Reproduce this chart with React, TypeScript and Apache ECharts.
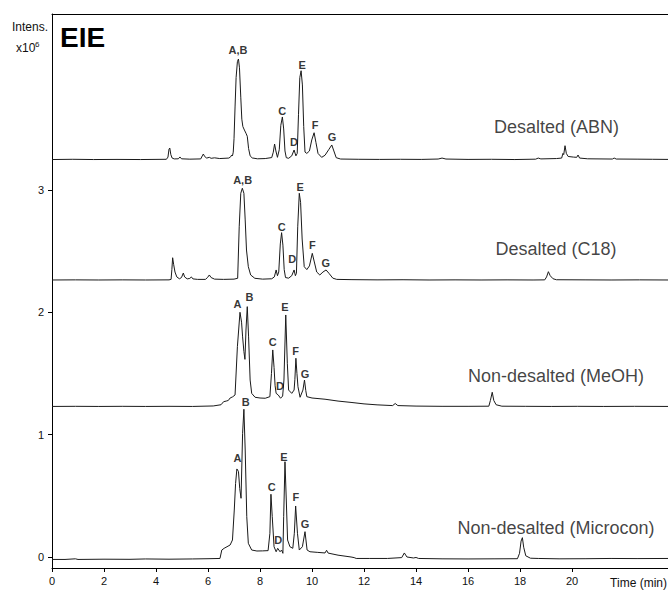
import React, { useEffect, useRef } from "react";
import * as echarts from "echarts";

const FONT = "'Liberation Sans', Arial, Helvetica, sans-serif";

const xTicks = [0, 2, 4, 6, 8, 10, 12, 14, 16, 18, 20];
const yTicks = [0, 1, 2, 3];

const sampleNames = ["Desalted (ABN)", "Desalted (C18)", "Non-desalted (MeOH)", "Non-desalted (Microcon)"];
const sampleLabelT = [19.4, 19.38, 19.38, 19.38];
const sampleLabelV = [3.516, 2.518, 1.48, 0.237];

const abnTrace: [number, number][] = [
  [0, 3.25], [0.8, 3.252], [1.6, 3.25], [2.5, 3.251], [3.4, 3.25], [4.4, 3.252], [4.46, 3.27], [4.5, 3.335], [4.53, 3.344], [4.57, 3.29], [4.62, 3.262], [4.7, 3.255], [4.86, 3.256], [4.92, 3.271], [4.98, 3.256], [5.3, 3.253], [5.72, 3.255], [5.78, 3.28], [5.82, 3.295], [5.87, 3.275], [5.95, 3.262], [6.05, 3.268], [6.12, 3.26], [6.25, 3.264], [6.45, 3.258], [6.8, 3.262], [6.87, 3.272], [6.91, 3.287], [6.94, 3.28], [6.97, 3.31], [7.0, 3.42], [7.04, 3.68], [7.08, 3.92], [7.13, 4.05], [7.17, 4.072], [7.21, 4.0], [7.26, 3.76], [7.3, 3.58], [7.34, 3.52], [7.4, 3.491], [7.46, 3.465], [7.51, 3.44], [7.56, 3.34], [7.62, 3.28], [7.7, 3.263], [7.9, 3.256], [8.2, 3.258], [8.45, 3.266], [8.51, 3.31], [8.56, 3.377], [8.61, 3.32], [8.67, 3.268], [8.74, 3.33], [8.8, 3.53], [8.86, 3.598], [8.91, 3.5], [8.96, 3.32], [9.01, 3.265], [9.1, 3.26], [9.22, 3.28], [9.31, 3.328], [9.38, 3.28], [9.43, 3.3], [9.48, 3.62], [9.53, 3.92], [9.58, 3.976], [9.63, 3.86], [9.68, 3.52], [9.73, 3.311], [9.8, 3.3], [9.9, 3.32], [9.99, 3.41], [10.08, 3.469], [10.15, 3.39], [10.23, 3.3], [10.37, 3.268], [10.5, 3.285], [10.64, 3.33], [10.76, 3.369], [10.84, 3.32], [10.93, 3.265], [11.1, 3.254], [11.8, 3.252], [12.6, 3.251], [13.4, 3.252], [14.2, 3.251], [14.85, 3.254], [15.0, 3.262], [15.15, 3.254], [16.0, 3.251], [16.9, 3.252], [17.8, 3.25], [18.6, 3.253], [18.7, 3.262], [18.8, 3.255], [19.4, 3.258], [19.6, 3.262], [19.65, 3.3], [19.68, 3.29], [19.73, 3.363], [19.78, 3.3], [19.85, 3.275], [20.05, 3.27], [20.18, 3.268], [20.23, 3.287], [20.29, 3.262], [20.6, 3.256], [21.55, 3.254], [21.62, 3.262], [21.7, 3.254], [22.5, 3.253], [23.1, 3.252], [23.7, 3.251],
];

const c18Trace: [number, number][] = [
  [0, 2.265], [0.9, 2.266], [1.8, 2.265], [2.7, 2.266], [3.6, 2.265], [4.5, 2.266], [4.58, 2.27], [4.61, 2.35], [4.64, 2.447], [4.68, 2.39], [4.73, 2.33], [4.8, 2.29], [4.9, 2.275], [4.98, 2.285], [5.05, 2.322], [5.1, 2.29], [5.2, 2.274], [5.3, 2.278], [5.36, 2.29], [5.42, 2.274], [5.6, 2.27], [5.9, 2.27], [5.98, 2.285], [6.05, 2.306], [6.12, 2.285], [6.25, 2.272], [6.6, 2.27], [7.0, 2.272], [7.14, 2.279], [7.2, 2.7], [7.26, 2.974], [7.32, 3.015], [7.38, 2.974], [7.43, 2.756], [7.48, 2.51], [7.55, 2.374], [7.64, 2.306], [7.8, 2.279], [8.1, 2.272], [8.45, 2.275], [8.55, 2.29], [8.62, 2.347], [8.67, 2.3], [8.72, 2.33], [8.78, 2.56], [8.83, 2.652], [8.88, 2.55], [8.93, 2.35], [8.98, 2.285], [9.1, 2.28], [9.22, 2.3], [9.31, 2.347], [9.36, 2.3], [9.4, 2.32], [9.45, 2.7], [9.51, 2.974], [9.56, 2.9], [9.62, 2.6], [9.7, 2.374], [9.8, 2.35], [9.9, 2.38], [10.01, 2.483], [10.08, 2.42], [10.18, 2.33], [10.3, 2.306], [10.42, 2.33], [10.54, 2.347], [10.65, 2.32], [10.8, 2.28], [10.95, 2.27], [11.5, 2.268], [12.5, 2.266], [13.5, 2.267], [14.5, 2.265], [15.5, 2.266], [16.5, 2.265], [17.5, 2.266], [18.5, 2.265], [18.95, 2.266], [19.02, 2.29], [19.09, 2.333], [19.16, 2.3], [19.27, 2.275], [19.4, 2.267], [20.5, 2.266], [21.5, 2.265], [22.6, 2.266], [23.7, 2.265],
];

const meohTrace: [number, number][] = [
  [0, 1.231], [0.9, 1.232], [1.8, 1.231], [2.7, 1.232], [3.6, 1.231], [4.5, 1.232], [5.4, 1.231], [6.2, 1.235], [6.5, 1.245], [6.6, 1.27], [6.7, 1.275], [6.78, 1.28], [6.85, 1.3], [6.95, 1.31], [7.04, 1.325], [7.13, 1.72], [7.23, 2.001], [7.29, 1.92], [7.33, 1.8], [7.38, 1.68], [7.42, 1.616], [7.46, 1.856], [7.51, 2.047], [7.56, 1.8], [7.62, 1.447], [7.68, 1.338], [7.81, 1.306], [8.0, 1.3], [8.2, 1.298], [8.38, 1.311], [8.44, 1.5], [8.49, 1.693], [8.54, 1.55], [8.58, 1.4], [8.62, 1.338], [8.7, 1.325], [8.79, 1.298], [8.87, 1.316], [8.92, 1.447], [8.99, 1.979], [9.05, 1.584], [9.1, 1.365], [9.22, 1.338], [9.31, 1.365], [9.34, 1.45], [9.38, 1.625], [9.42, 1.5], [9.46, 1.392], [9.54, 1.306], [9.65, 1.365], [9.71, 1.447], [9.76, 1.36], [9.8, 1.311], [10.0, 1.3], [10.5, 1.29], [11.0, 1.275], [11.5, 1.264], [12.0, 1.252], [12.5, 1.244], [13.1, 1.238], [13.2, 1.255], [13.3, 1.238], [14.0, 1.234], [15.0, 1.232], [16.0, 1.232], [16.8, 1.233], [16.86, 1.28], [16.93, 1.347], [16.99, 1.28], [17.08, 1.245], [17.3, 1.233], [18.2, 1.232], [19.2, 1.231], [20.2, 1.232], [21.2, 1.231], [22.4, 1.232], [23.7, 1.231],
];

const microconTrace: [number, number][] = [
  [0, -0.02], [0.5, -0.02], [0.9, -0.015], [1.0, -0.02], [2.0, -0.018], [3.0, -0.019], [3.6, -0.016], [4.5, -0.018], [5.4, -0.016], [6.0, -0.014], [6.46, -0.012], [6.53, 0.057], [6.62, 0.071], [6.73, 0.084], [6.85, 0.098], [6.94, 0.139], [7.01, 0.384], [7.06, 0.6], [7.11, 0.72], [7.17, 0.7], [7.22, 0.56], [7.27, 0.48], [7.33, 1.011], [7.38, 1.208], [7.43, 0.875], [7.49, 0.33], [7.55, 0.112], [7.68, 0.057], [7.88, 0.049], [8.1, 0.05], [8.31, 0.052], [8.38, 0.194], [8.42, 0.513], [8.47, 0.33], [8.54, 0.084], [8.62, 0.043], [8.68, 0.071], [8.77, 0.043], [8.83, 0.057], [8.88, 0.03], [8.91, 0.33], [8.96, 0.779], [9.01, 0.466], [9.06, 0.139], [9.15, 0.084], [9.26, 0.071], [9.32, 0.194], [9.37, 0.417], [9.44, 0.194], [9.51, 0.057], [9.63, 0.084], [9.73, 0.207], [9.81, 0.057], [9.92, 0.043], [10.2, 0.038], [10.5, 0.033], [10.56, 0.055], [10.62, 0.032], [11.0, 0.015], [11.5, 0.0], [11.62, -0.005], [11.7, -0.012], [12.2, -0.012], [12.9, -0.012], [13.45, -0.005], [13.55, 0.033], [13.65, 0.0], [13.9, -0.008], [14.0, -0.004], [14.1, -0.012], [15.0, -0.015], [16.0, -0.016], [17.0, -0.015], [17.9, -0.014], [17.98, 0.03], [18.04, 0.13], [18.09, 0.158], [18.14, 0.08], [18.22, 0.01], [18.4, -0.01], [18.7, -0.012], [19.5, -0.015], [20.5, -0.014], [21.5, -0.012], [22.5, -0.013], [23.7, -0.012],
];

const peakNames = [
  "A,B", "C", "D", "E", "F", "G",
  "A,B", "C", "D", "E", "F", "G",
  "A", "B", "C", "D", "E", "F", "G",
  "A", "B", "C", "D", "E", "F", "G",
];
const peakLabelT = [
  7.15, 8.85, 9.31, 9.62, 10.12, 10.77,
  7.33, 8.83, 9.24, 9.54, 10.01, 10.53,
  7.13, 7.59, 8.49, 8.77, 8.96, 9.37, 9.73,
  7.13, 7.45, 8.45, 8.7, 8.92, 9.38, 9.73,
];
const peakLabelV = [
  4.146, 3.647, 3.393, 4.023, 3.532, 3.434,
  3.083, 2.701, 2.437, 3.028, 2.551, 2.404,
  2.069, 2.128, 1.76, 1.398, 2.047, 1.684, 1.496,
  0.807, 1.27, 0.57, 0.139, 0.82, 0.493, 0.267,
];

const traces = [abnTrace, c18Trace, meohTrace, microconTrace];

export default function App() {
  const ref = useRef<HTMLDivElement>(null);
  useEffect(() => {
    document.body.style.margin = "0";
    if (!ref.current) return;
    const chart = echarts.init(ref.current, null, { renderer: "svg" });
    const axisLineStyle = { color: "#000", width: 1 };
    const option: any = {
      animation: false,
      backgroundColor: "#fff",
      textStyle: { fontFamily: FONT },
      grid: { left: 52, right: 0, top: 14, bottom: 22, containLabel: false },
      xAxis: [
        {
          type: "value",
          min: 0,
          max: 23.69,
          axisLine: { show: true, onZero: false, lineStyle: axisLineStyle },
          axisTick: { show: true, customValues: xTicks, length: 4, lineStyle: axisLineStyle },
          axisLabel: { customValues: xTicks, fontSize: 11, color: "#111", margin: 7, fontFamily: FONT },
          splitLine: { show: false },
        },
        {
          type: "value",
          position: "top",
          min: 0,
          max: 23.69,
          axisLine: { show: true, onZero: false, lineStyle: axisLineStyle },
          axisTick: { show: false },
          axisLabel: { show: false },
          splitLine: { show: false },
        },
      ],
      yAxis: {
        type: "value",
        min: -0.09,
        max: 4.44,
        axisLine: { show: true, onZero: false, lineStyle: axisLineStyle },
        axisTick: { show: true, customValues: yTicks, length: 4, lineStyle: axisLineStyle },
        axisLabel: { customValues: yTicks, fontSize: 11, color: "#111", margin: 8, fontFamily: FONT },
        splitLine: { show: false },
      },
      series: [
        ...traces.map((d) => ({
          type: "line",
          data: d,
          showSymbol: false,
          symbol: "none",
          silent: true,
          lineStyle: { color: "#1a1a1a", width: 1 },
          z: 2,
        })),
        {
          type: "scatter",
          silent: true,
          symbolSize: 1,
          itemStyle: { color: "rgba(0,0,0,0)" },
          data: peakNames.map((n, i) => ({ name: n, value: [peakLabelT[i], peakLabelV[i]] })),
          label: {
            show: true,
            position: "inside",
            formatter: "{b}",
            fontSize: 11,
            fontWeight: "bold",
            color: "#000",
            fontFamily: FONT,
          },
          z: 3,
        },
        {
          type: "scatter",
          silent: true,
          symbolSize: 1,
          itemStyle: { color: "rgba(0,0,0,0)" },
          data: sampleNames.map((n, i) => ({ name: n, value: [sampleLabelT[i], sampleLabelV[i]] })),
          label: {
            show: true,
            position: "inside",
            formatter: "{b}",
            fontSize: 18,
            color: "#111",
            fontFamily: FONT,
          },
          z: 3,
        },
      ],
      graphic: [
        { type: "text", x: 60, y: 37, style: { text: "EIE", font: `bold 28px ${FONT}`, fill: "#000", align: "left", verticalAlign: "middle" } },
        { type: "text", x: 12, y: 27, style: { text: "Intens.", font: `12px ${FONT}`, fill: "#111", align: "left", verticalAlign: "middle" } },
        { type: "text", x: 16, y: 48, style: { text: "x10", font: `12px ${FONT}`, fill: "#111", align: "left", verticalAlign: "middle" } },
        { type: "text", x: 35, y: 44, style: { text: "6", font: `8px ${FONT}`, fill: "#111", align: "left", verticalAlign: "middle" } },
        { type: "text", x: 667, y: 583, style: { text: "Time (min)", font: `12px ${FONT}`, fill: "#111", align: "right", verticalAlign: "middle" } },
      ],
    };
    chart.setOption(option);
    return () => chart.dispose();
  }, []);
  return <div ref={ref} style={{ width: 668, height: 590 }} />;
}
